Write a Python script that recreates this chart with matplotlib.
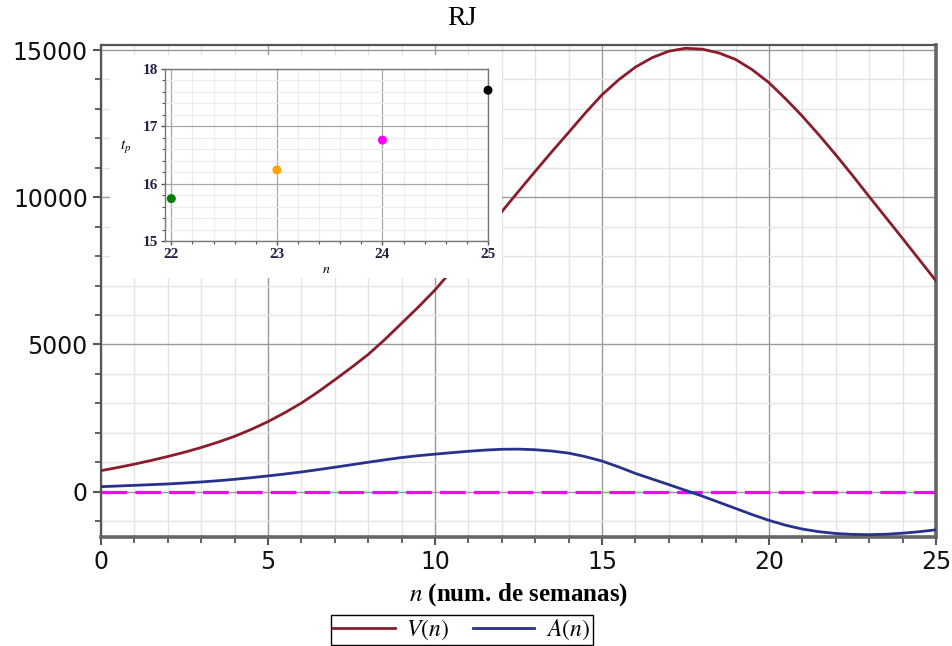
import matplotlib
matplotlib.use("Agg")
import matplotlib.pyplot as plt
from matplotlib.patches import Rectangle
from matplotlib.ticker import MultipleLocator

# --- DATA (half-week samples) ---
n_weeks = [i * 0.5 for i in range(51)]
V_n = [715, 820, 935, 1060, 1195, 1340, 1500, 1680, 1880, 2115,
       2380, 2680, 3010, 3390, 3800, 4220, 4660, 5170, 5720, 6270,
       6850, 7510, 8180, 8840, 9510, 10200, 10880, 11550, 12200, 12860,
       13480, 13990, 14420, 14740, 14960, 15060, 15030, 14900, 14680, 14330,
       13890, 13340, 12750, 12110, 11440, 10740, 10020, 9310, 8600, 7880,
       7160]
A_n = [170, 192, 215, 238, 262, 295, 330, 372, 420, 475,
       535, 600, 670, 748, 830, 915, 1000, 1082, 1160, 1222,
       1275, 1325, 1372, 1412, 1440, 1445, 1425, 1380, 1310, 1190,
       1040, 840, 620, 430, 240, 45, -150, -360, -570, -780,
       -975, -1140, -1270, -1360, -1420, -1450, -1460, -1445, -1410, -1360,
       -1295]

tp_n = [22, 23, 24, 25]
tp_vals = [15.74, 16.24, 16.76, 17.63]
tp_colors = ["#008000", "#FFA500", "#FF00FF", "#000000"]

V_COLOR = "#8B1C2C"
A_COLOR = "#28318C"

plt.rcParams["mathtext.fontset"] = "stix"

fig = plt.figure(figsize=(9.52, 6.46), dpi=100)
ax = fig.add_axes([0.1061, 0.1687, 0.8771, 0.7616])

ax.plot(n_weeks, V_n, color=V_COLOR, lw=2.0, label=r"$V(n)$", zorder=3)
ax.plot(n_weeks, A_n, color=A_COLOR, lw=2.0, label=r"$A(n)$", zorder=3)
ax.axhline(0, color="#FF00FF", lw=2.3, dashes=(8, 2.6), zorder=2)

ax.set_xlim(0, 25)
ax.set_ylim(-1540, 15170)
ax.xaxis.set_major_locator(MultipleLocator(5))
ax.xaxis.set_minor_locator(MultipleLocator(1))
ax.yaxis.set_major_locator(MultipleLocator(5000))
ax.yaxis.set_minor_locator(MultipleLocator(1000))
ax.grid(which="major", color="#9a9a9a", lw=1.0, zorder=0)
ax.grid(which="minor", color="#e4e4e4", lw=1.0, zorder=0)
ax.set_axisbelow(True)

ax.tick_params(which="major", length=6, width=1.5, color="#555555",
               labelsize=17, labelcolor="#111111")
ax.tick_params(which="minor", length=4, width=1.3, color="#555555")
for side in ["top", "left"]:
    ax.spines[side].set_color("#555555")
    ax.spines[side].set_linewidth(1.6)
for side in ["bottom", "right"]:
    ax.spines[side].set_color("#666666")
    ax.spines[side].set_linewidth(2.6)

fig.text(0.485, 0.972, "RJ", family="Liberation Serif", fontsize=20,
         ha="center", va="center")
ax.set_xlabel(r"$n$ (num. de semanas)", family="Liberation Serif",
              fontweight="bold", fontsize=18, labelpad=5)

fig.legend(loc="center", bbox_to_anchor=(0.485, 0.025), ncol=2,
           fontsize=17, frameon=True, fancybox=False, edgecolor="black",
           handlelength=2.6, columnspacing=1.0, borderpad=0.1,
           handletextpad=0.5, framealpha=1)

# white panel behind the inset
fig.patches.append(Rectangle((0.1155, 0.5697), 0.4118, 0.3452,
                             transform=fig.transFigure, facecolor="white",
                             edgecolor="none", zorder=1))

axin = fig.add_axes([0.1733, 0.6269, 0.3393, 0.2663], zorder=2)
axin.scatter(tp_n, tp_vals, c=tp_colors, s=30, zorder=3, clip_on=False)
axin.set_xlim(21.94, 25)
axin.set_ylim(15, 18)
axin.xaxis.set_major_locator(MultipleLocator(1))
axin.xaxis.set_minor_locator(MultipleLocator(0.2))
axin.yaxis.set_major_locator(MultipleLocator(1))
axin.yaxis.set_minor_locator(MultipleLocator(0.2))
axin.grid(which="major", color="#a8a8a8", lw=0.9)
axin.grid(which="minor", color="#ececec", lw=0.8)
axin.set_axisbelow(True)
axin.tick_params(which="major", length=3, width=1, color="#555555",
                 labelsize=11, labelcolor="#222244", pad=2)
axin.tick_params(which="minor", length=2, width=0.8, color="#555555")
for lbl in axin.get_xticklabels() + axin.get_yticklabels():
    lbl.set_family("Liberation Serif")
    lbl.set_fontweight("bold")
for side in axin.spines:
    axin.spines[side].set_color("#777777")
    axin.spines[side].set_linewidth(1.0)
axin.set_xlabel(r"$n$", fontsize=10, labelpad=1)
axin.set_ylabel(r"$t_p$", fontsize=11, rotation=0, labelpad=12)

fig.savefig("out.png", dpi=100)
